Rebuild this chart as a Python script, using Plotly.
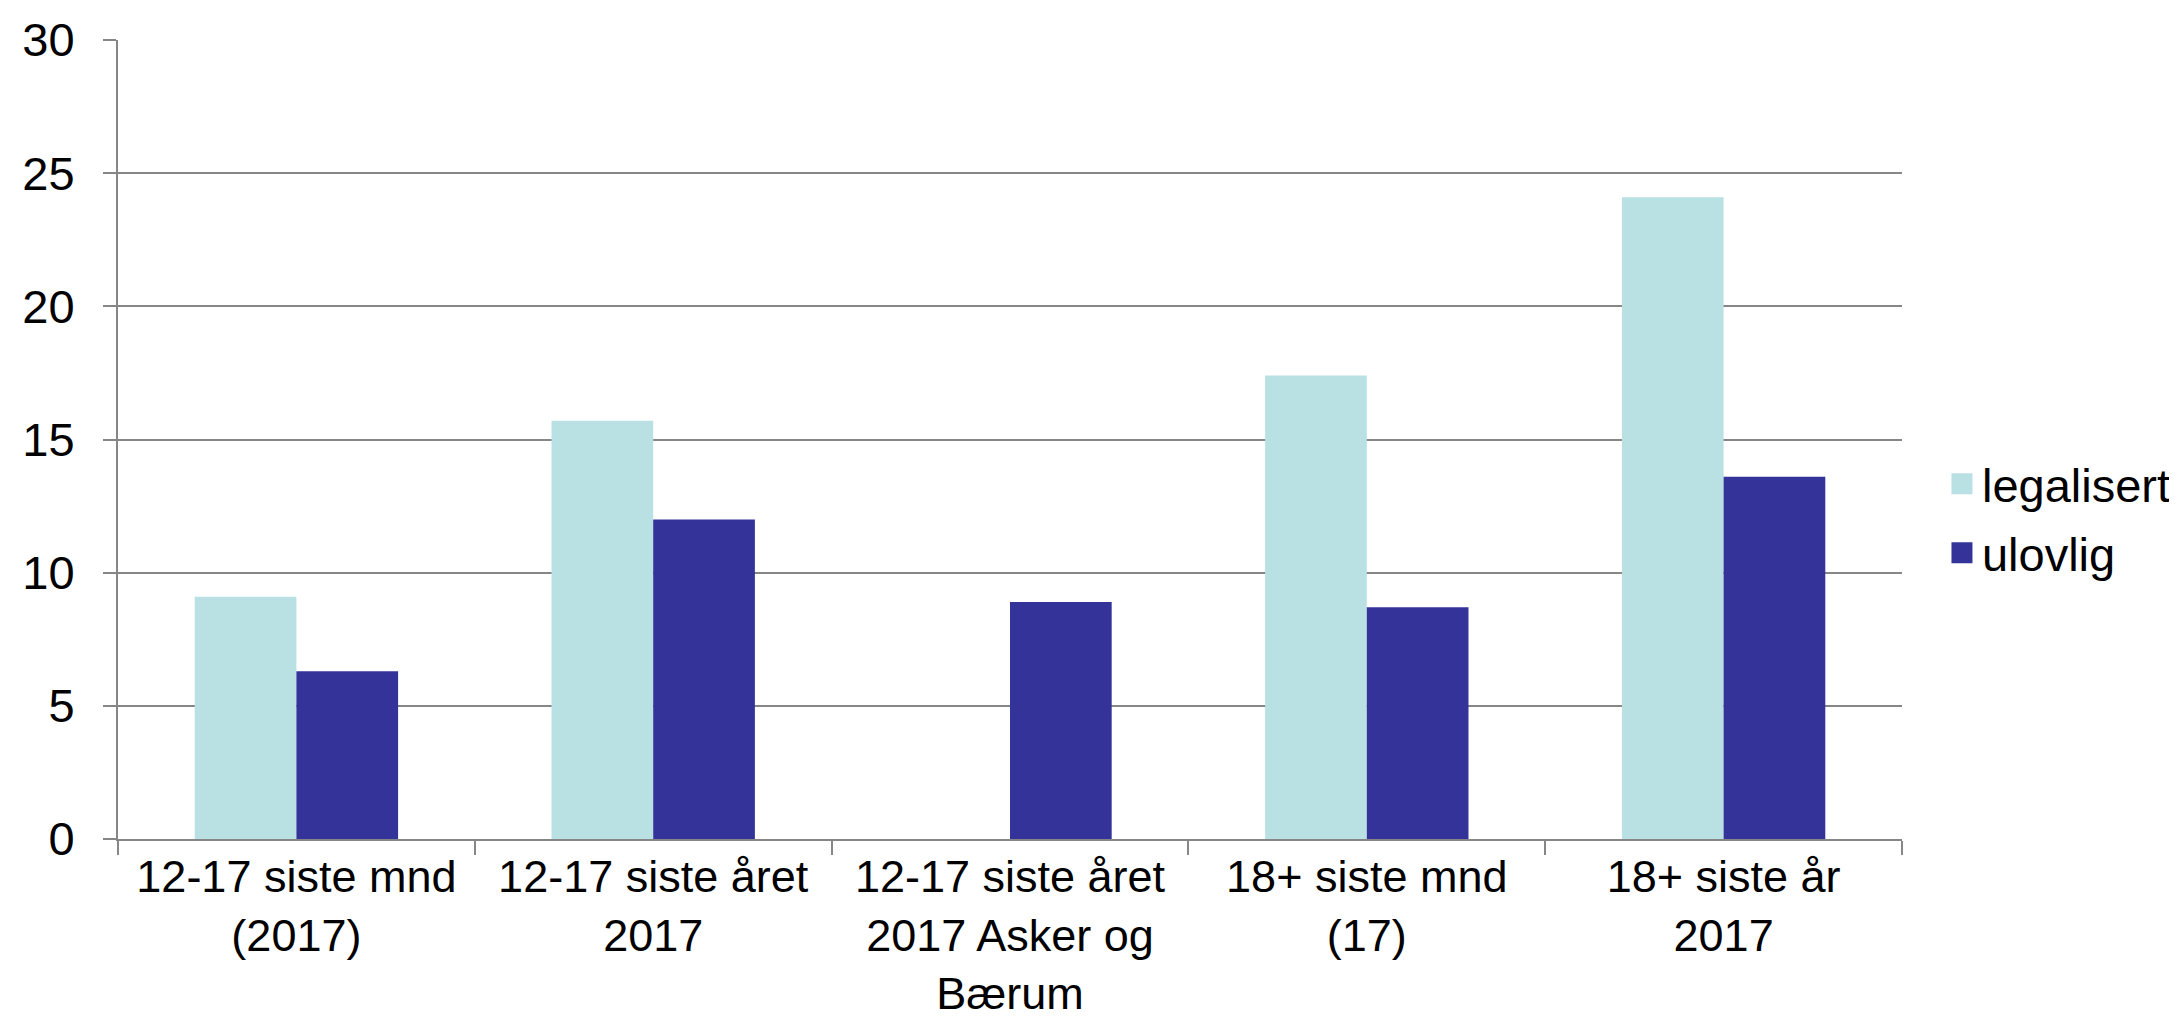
import plotly.graph_objects as go

categories = [
    "12-17 siste mnd<br>(2017)",
    "12-17 siste året<br>2017",
    "12-17 siste året<br>2017 Asker og<br>Bærum",
    "18+ siste mnd<br>(17)",
    "18+ siste år<br>2017",
]
legalisert = [9.1, 15.7, None, 17.4, 24.1]
ulovlig = [6.3, 12.0, 8.9, 8.7, 13.6]
series_names = ["legalisert", "ulovlig"]
colors = ["#B9E0E3", "#343399"]
y_ticks = [0, 5, 10, 15, 20, 25, 30]

FONT = "Liberation Sans, Arial, sans-serif"
GRID = "#868686"

fig = go.Figure()
for name, vals, col in zip(series_names, [legalisert, ulovlig], colors):
    fig.add_trace(go.Bar(
        x=categories, y=vals, name=name,
        marker=dict(color=col, line=dict(width=0)),
        showlegend=False,
    ))
    # legend swatch
    fig.add_trace(go.Scatter(
        x=[None], y=[None], mode="markers", name=name,
        legendgroup=name,
        marker=dict(symbol="square", size=16, color=col,
                    line=dict(color=col, width=5)),
    ))

fig.update_layout(
    width=2177, height=1017,
    margin=dict(l=110, r=283, t=32, b=186, autoexpand=False),
    paper_bgcolor="white", plot_bgcolor="white",
    font=dict(family=FONT, size=47, color="black"),
    barmode="group", bargap=0.43, bargroupgap=0,
    legend=dict(
        x=1.0224, xanchor="left", y=0.401, yanchor="middle",
        font=dict(family=FONT, size=47, color="black"),
        tracegroupgap=5, itemsizing="trace",
        bgcolor="rgba(0,0,0,0)",
    ),
)
fig.update_xaxes(
    type="category", automargin=False,
    showline=True, linecolor=GRID, linewidth=2,
    ticks="outside", tickson="boundaries", ticklen=14, tickwidth=2, tickcolor=GRID,
    showgrid=False, ticklabelstandoff=-3,
    tickfont=dict(family=FONT, size=45, color="black"),
)
fig.update_yaxes(
    range=[0, 30], tickvals=y_ticks, ticktext=[str(v) for v in y_ticks],
    automargin=False,
    showline=True, linecolor=GRID, linewidth=2,
    ticks="outside", ticklen=13, tickwidth=2, tickcolor=GRID,
    showgrid=True, gridcolor=GRID, gridwidth=2,
    zeroline=False, ticklabelstandoff=19,
    tickfont=dict(family=FONT, size=47, color="black"),
)

fig.write_html("out.html")
